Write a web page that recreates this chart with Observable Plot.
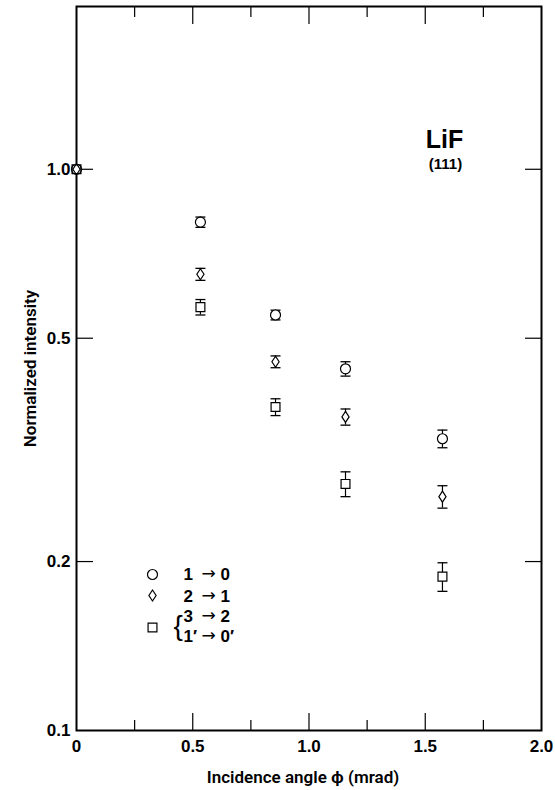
<!DOCTYPE html>
<html><head><meta charset="utf-8">
<script src="https://cdn.jsdelivr.net/npm/d3@7"></script>
<script src="https://cdn.jsdelivr.net/npm/@observablehq/plot@0.6"></script>
<style>
body{margin:0;background:#fff}
#chart{width:555px;height:790px}
</style>
</head><body><div id="chart"></div>
<script>
// ---- data ----
const angle = [0, 0.533, 0.856, 1.157, 1.574];           // incidence angle (mrad)
const int10 = [1.0, 0.805, 0.55, 0.441, 0.331];          // 1 -> 0
const err10 = [0, 0.017, 0.011, 0.013, 0.012];
const int21 = [1.0, 0.65, 0.454, 0.362, 0.261];          // 2 -> 1
const err21 = [0, 0.016, 0.011, 0.012, 0.012];
const int32 = [1.0, 0.568, 0.377, 0.275, 0.188];         // 3 -> 2 / 1' -> 0'
const err32 = [0, 0.018, 0.013, 0.014, 0.011];

const xDomain = [0, 2];
const yDomain = [0.1, 1.95];
const xMajorTicks = [0.5, 1.0, 1.5];
const xMinorTicks = [0.25, 0.75, 1.25, 1.75];
const xLabelTicks = [0, 0.5, 1.0, 1.5, 2.0];
const xLabelText = ["0", "0.5", "1.0", "1.5", "2.0"];
const yTicks = [0.2, 0.5, 1.0];
const yLabelTicks = [0.1, 0.2, 0.5, 1.0];
const yLabelText = ["0.1", "0.2", "0.5", "1.0"];
const legendFrom = ["1", "2", "3", "1′"];
const legendArrow = "→";
const legendTo = ["0", "1", "2", "0′"];
const xTitle = "Incidence angle ϕ (mrad)";
const yTitle = "Normalized intensity";
const sampleName = "LiF";
const sampleFace = "(111)";

// ---- symbols ----
const tallDiamond = {draw(ctx, size) {
  const r = Math.sqrt(size / Math.PI);
  ctx.moveTo(0, -r * 1.1); ctx.lineTo(r * 0.72, 0); ctx.lineTo(0, r * 1.1); ctx.lineTo(-r * 0.72, 0); ctx.closePath();
}};
const capLine = {draw(ctx, size) {
  const r = Math.sqrt(size / Math.PI);
  ctx.moveTo(-r, 0); ctx.lineTo(r, 0);
}};

function rows(vals, errs) {
  return angle.map((x, i) => ({x, y: vals[i], lo: vals[i] - errs[i], hi: vals[i] + errs[i], e: errs[i]}));
}
const series = [
  {data: rows(int10, err10), symbol: "circle"},
  {data: rows(int21, err21), symbol: tallDiamond},
  {data: rows(int32, err32), symbol: "square"}
];

const bars = [], fills = [], outlines = [];
for (const s of series) {
  const withErr = s.data.filter(d => d.e > 0);
  bars.push(Plot.ruleX(withErr, {x: "x", y1: "lo", y2: "hi", stroke: "black", strokeWidth: 1.2}));
  bars.push(Plot.dot(withErr, {x: "x", y: "lo", r: 5, symbol: capLine, stroke: "black", strokeWidth: 1.3}));
  bars.push(Plot.dot(withErr, {x: "x", y: "hi", r: 5, symbol: capLine, stroke: "black", strokeWidth: 1.3}));
  fills.push(Plot.dot(s.data, {x: "x", y: "y", r: 5, symbol: s.symbol, fill: "white", stroke: "none"}));
  outlines.push(Plot.dot(s.data, {x: "x", y: "y", r: 5, symbol: s.symbol, fill: "none", stroke: "black", strokeWidth: 1.2}));
}

// legend rows (vertical offsets from the top of the frame)
const legendRowDy = [568, 590, 610, 630];
const legendMarks = [];
legendFrom.forEach((t, i) => {
  const base = {frameAnchor: "top-left", dy: legendRowDy[i], lineAnchor: "middle"};
  legendMarks.push(Plot.text([t], {...base, dx: 107, textAnchor: "start", fontSize: 17, fontWeight: "bold"}));
  legendMarks.push(Plot.text([legendArrow], {...base, dx: 132, dy: legendRowDy[i] - 1, textAnchor: "middle", fontSize: 17, fontWeight: "normal", fontFamily: "'DejaVu Sans', sans-serif"}));
  legendMarks.push(Plot.text([legendTo[i]], {...base, dx: 144, textAnchor: "start", fontSize: 17, fontWeight: "bold"}));
});

const blank = () => "";
const titleFont = {fontSize: 17, fontWeight: 600, fontFamily: "Roboto, 'Liberation Sans', sans-serif", textAnchor: "middle", lineAnchor: "middle"};
const markerStyle = {frameAnchor: "top-left", r: 5, fill: "white", stroke: "black", strokeWidth: 1.2};

const chart = Plot.plot({
  width: 555, height: 790,
  marginTop: 6, marginBottom: 60, marginLeft: 76, marginRight: 14,
  style: {fontFamily: "'Liberation Sans', Arial, sans-serif", background: "white", color: "black"},
  x: {domain: xDomain},
  y: {type: "log", domain: yDomain},
  marks: [
    // inward ticks
    Plot.axisX(xMajorTicks, {anchor: "bottom", tickSize: -17, tickFormat: blank, label: null, strokeWidth: 1.2}),
    Plot.axisX(xMinorTicks, {anchor: "bottom", tickSize: -10, tickFormat: blank, label: null, strokeWidth: 1.2}),
    Plot.axisX(xMajorTicks, {anchor: "top", tickSize: -17, tickFormat: blank, label: null, strokeWidth: 1.2}),
    Plot.axisX(xMinorTicks, {anchor: "top", tickSize: -10, tickFormat: blank, label: null, strokeWidth: 1.2}),
    Plot.axisY(yTicks, {anchor: "left", tickSize: -17, tickFormat: blank, label: null, strokeWidth: 1.2}),
    Plot.axisY(yTicks, {anchor: "right", tickSize: -17, tickFormat: blank, label: null, strokeWidth: 1.2}),
    // tick labels
    Plot.axisX(xLabelTicks, {anchor: "bottom", tickSize: 0, tickPadding: 9, label: null,
      tickFormat: d => xLabelText[xLabelTicks.indexOf(d)], fontSize: 17, fontWeight: "bold"}),
    Plot.axisY(yLabelTicks, {anchor: "left", tickSize: 0, tickPadding: 6, label: null,
      tickFormat: d => yLabelText[yLabelTicks.indexOf(d)], fontSize: 17, fontWeight: "bold"}),
    Plot.frame({stroke: "black", strokeWidth: 2}),
    // axis titles
    Plot.text([xTitle], {...titleFont, frameAnchor: "bottom", dy: 47, dx: -6}),
    Plot.text([yTitle], {...titleFont, frameAnchor: "left", dx: -46, rotate: -90}),
    // sample label
    Plot.text([sampleName], {frameAnchor: "top-right", dx: -97, dy: 141, fontSize: 25, fontWeight: "bold", textAnchor: "middle", lineAnchor: "bottom"}),
    Plot.text([sampleFace], {frameAnchor: "top-right", dx: -96, dy: 162, fontSize: 15, fontWeight: "bold", textAnchor: "middle", lineAnchor: "bottom"}),
    // error bars and markers
    ...bars,
    ...fills,
    ...outlines,
    // legend
    Plot.dot([0], {...markerStyle, dx: 76, dy: 568, symbol: "circle"}),
    Plot.dot([0], {...markerStyle, dx: 76, dy: 589, symbol: tallDiamond}),
    Plot.dot([0], {...markerStyle, dx: 76, dy: 621, symbol: "square"}),
    ...legendMarks,
    Plot.text(["{"], {frameAnchor: "top-left", dx: 97, dy: 620, fontSize: 28, fontWeight: "normal", textAnchor: "start", lineAnchor: "middle"})
  ]
});
document.getElementById("chart").appendChild(chart);
</script>
</body></html>
